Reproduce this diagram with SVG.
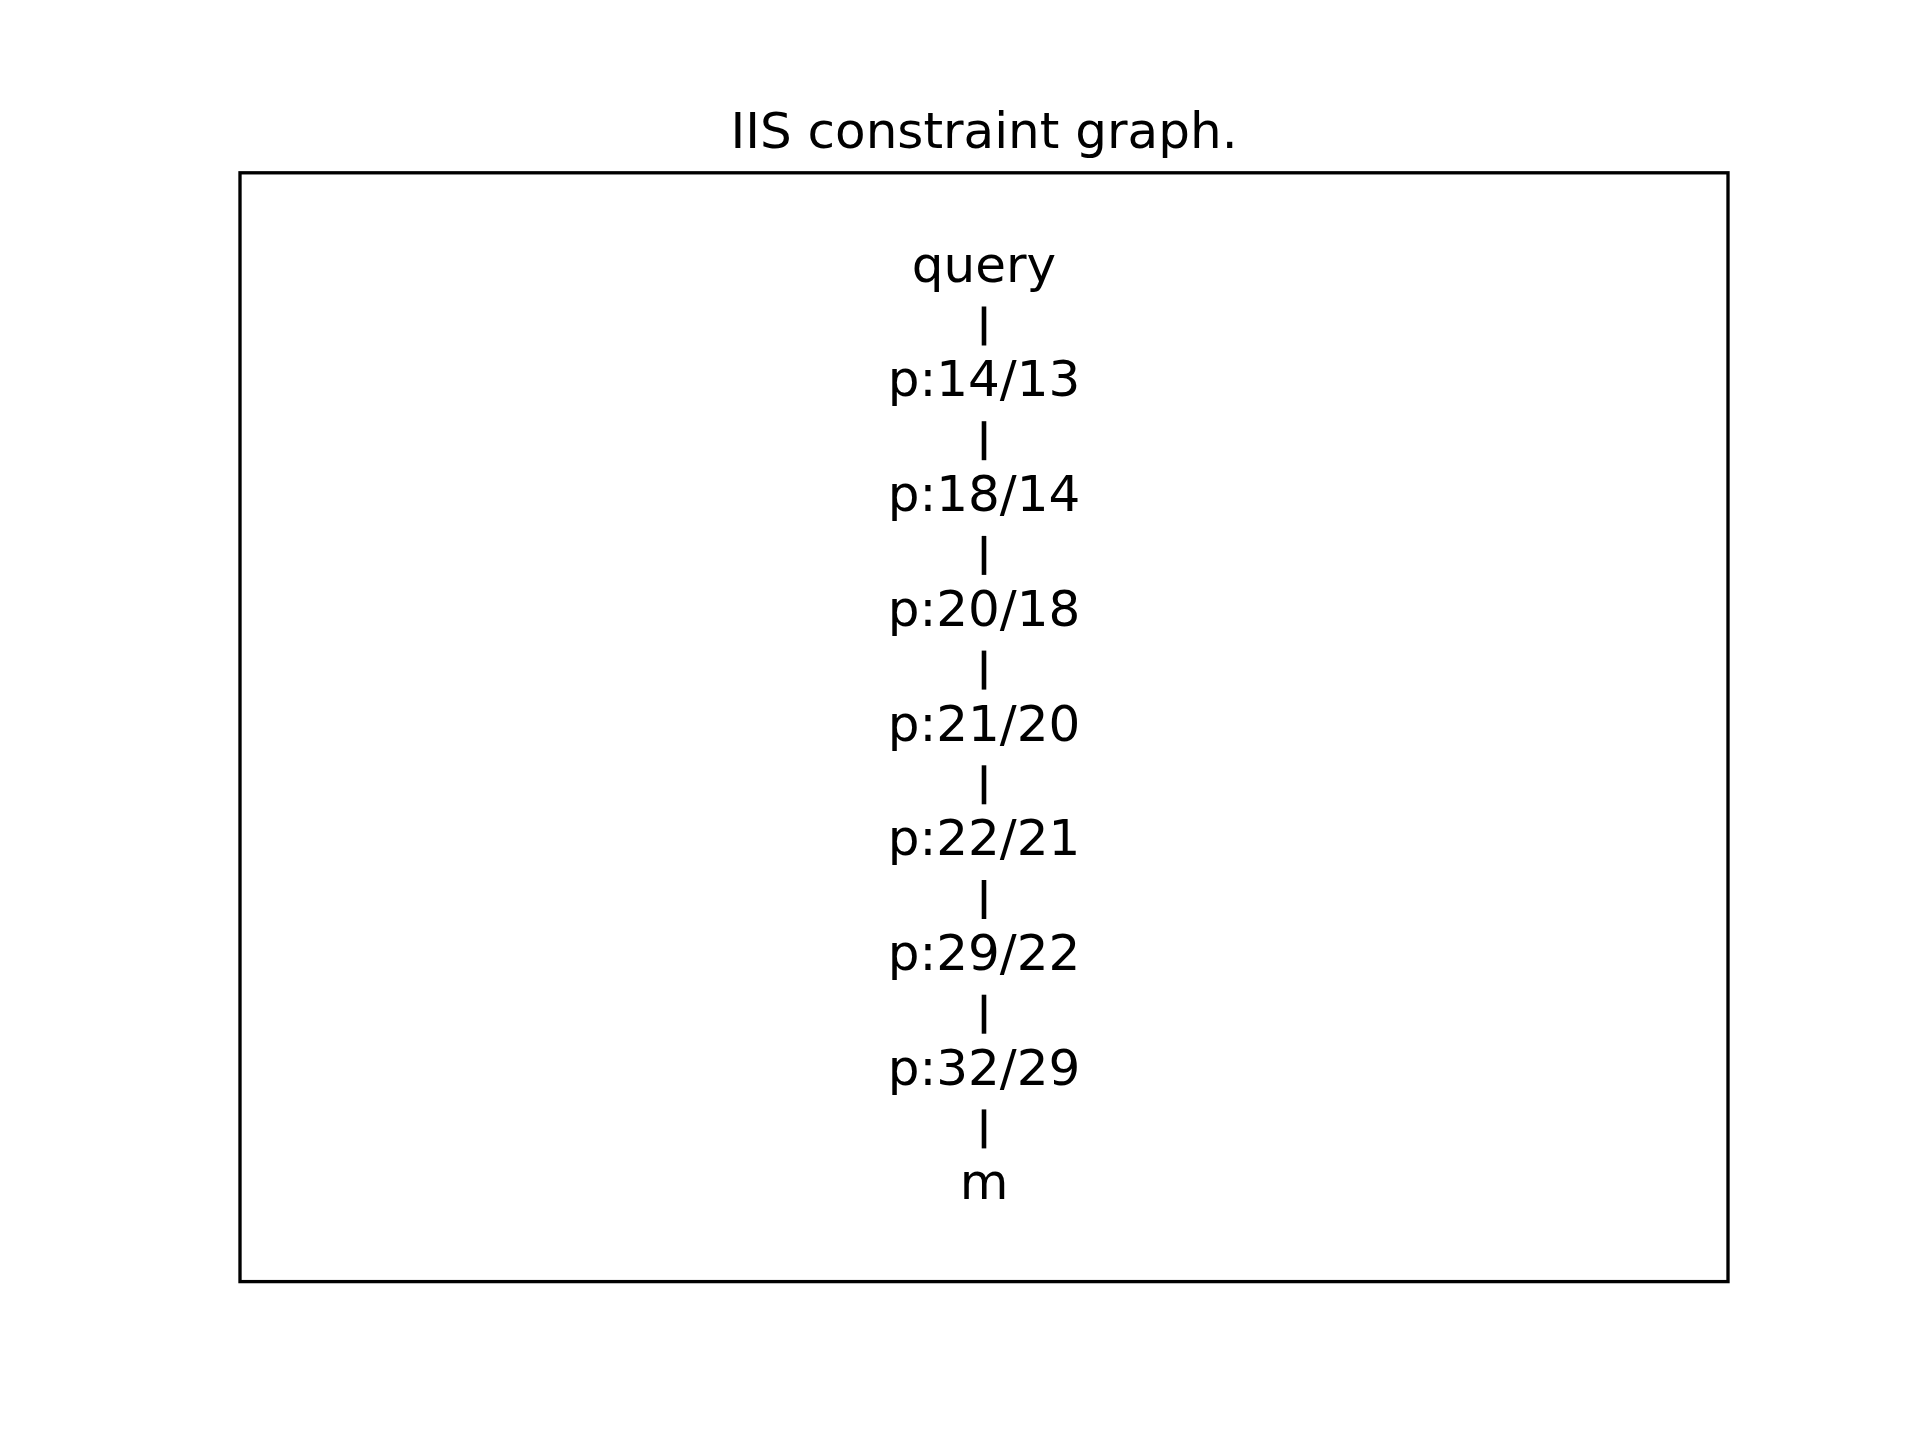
<svg xmlns="http://www.w3.org/2000/svg" width="1920" height="1440" viewBox="0 0 1920 1440">
<style>
.t{font-family:"DejaVu Sans","Liberation Sans",sans-serif;font-size:50px;fill:#000;text-anchor:middle}
.c{stroke:#000;stroke-width:4.6;fill:none}
</style>
<rect width="1920" height="1440" fill="#fff"/>
<text class="t" x="984" y="148">IIS constraint graph.</text>
<rect x="240" y="172.8" width="1488" height="1108.8" fill="none" stroke="#000" stroke-width="3.33"/>
<g id="connectors">
<line class="c" x1="984" y1="306.5" x2="984" y2="345.5"/>
<line class="c" x1="984" y1="421.2" x2="984" y2="460.2"/>
<line class="c" x1="984" y1="535.9" x2="984" y2="574.9"/>
<line class="c" x1="984" y1="650.6" x2="984" y2="689.6"/>
<line class="c" x1="984" y1="765.3" x2="984" y2="804.3"/>
<line class="c" x1="984" y1="880" x2="984" y2="919"/>
<line class="c" x1="984" y1="994.7" x2="984" y2="1033.7"/>
<line class="c" x1="984" y1="1109.4" x2="984" y2="1148.4"/>
</g>
<g id="n-query"><text class="t" x="984" y="281.7">query</text></g>
<g id="n-p14-13"><text class="t" x="984" y="396.4">p:14/13</text></g>
<g id="n-p18-14"><text class="t" x="984" y="511.1">p:18/14</text></g>
<g id="n-p20-18"><text class="t" x="984" y="625.8">p:20/18</text></g>
<g id="n-p21-20"><text class="t" x="984" y="740.5">p:21/20</text></g>
<g id="n-p22-21"><text class="t" x="984" y="855.2">p:22/21</text></g>
<g id="n-p29-22"><text class="t" x="984" y="969.9">p:29/22</text></g>
<g id="n-p32-29"><text class="t" x="984" y="1084.6">p:32/29</text></g>
<g id="n-m"><text class="t" x="984" y="1199.3">m</text></g>
</svg>
